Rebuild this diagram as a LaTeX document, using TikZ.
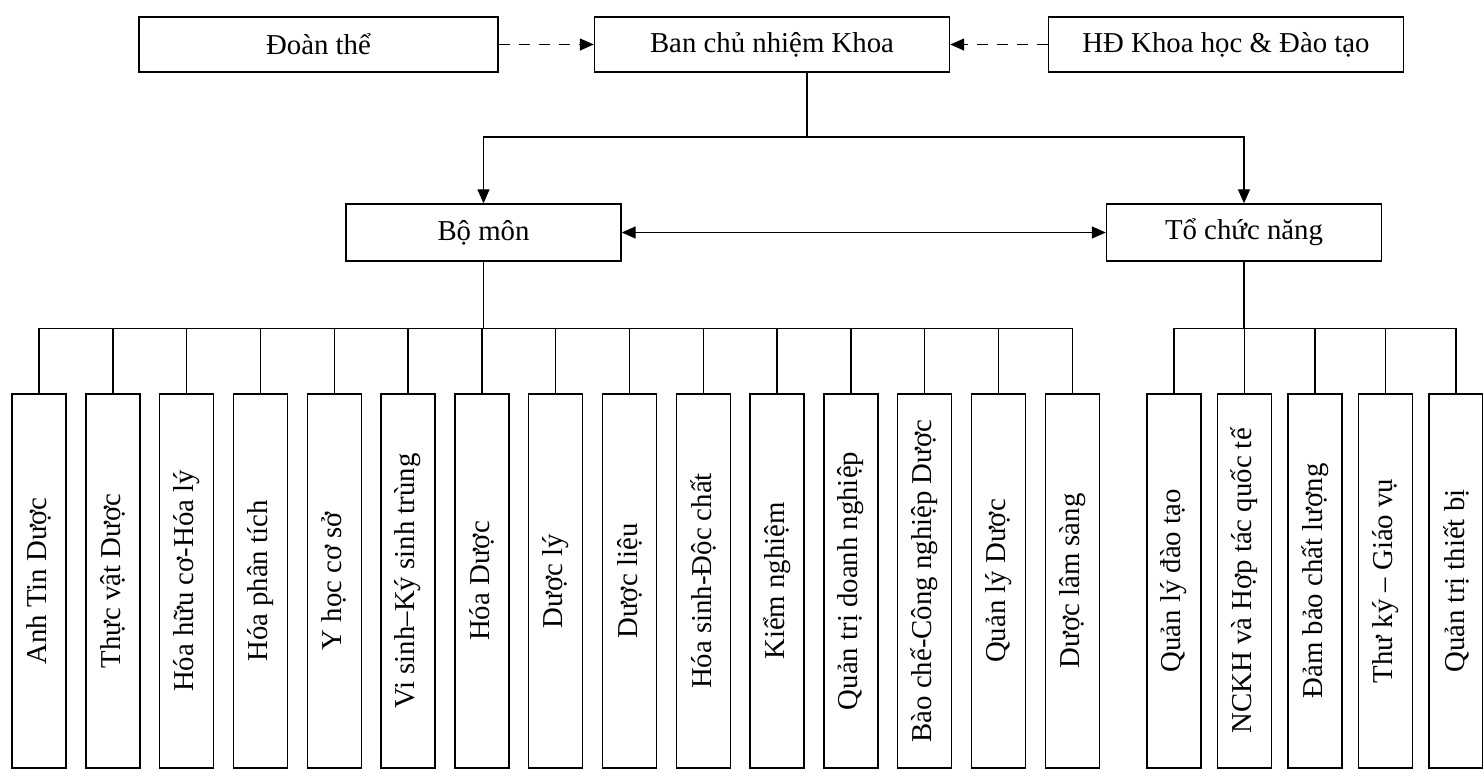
\documentclass[tikz,border=0pt]{standalone}
\usepackage{fontspec}
\setmainfont{Liberation Serif}
\usetikzlibrary{arrows.meta}

\begin{document}
\begin{tikzpicture}[x=0.5pt,y=-0.5pt,line width=0.7pt,
  box/.style={draw,inner sep=0pt,font=\fontsize{14.4}{17}\selectfont},
  topbox/.style={box,minimum width=177.5pt,minimum height=27.5pt},
  midbox/.style={box,minimum width=137.5pt,minimum height=28.5pt},
  unitbox/.style={box,rotate=90,minimum width=187pt,minimum height=27pt},
  tip/.style={-{Triangle[length=7pt,width=6pt]}},
  dashtip/.style={tip,dash pattern=on 5.5pt off 4.5pt}]
  \useasboundingbox (0,0) rectangle (1483,770);
  \node[topbox,minimum width=179.5pt] (doan) at (318.5,44.5) {Đoàn thể};
  \node[topbox] (bcn) at (772,44.5) {Ban chủ nhiệm Khoa};
  \node[topbox] (hd) at (1226,44.5) {HĐ Khoa học \& Đào tạo};
  \node[midbox] (bomon) at (483.5,232.5) {Bộ môn};
  \node[midbox] (tochuc) at (1244,232.5) {Tổ chức năng};
  \coordinate (split) at (807,137);
  % bo mon
  \node[unitbox] (b1) at (39,581) {Anh Tin Dược};
  \node[unitbox] (b2) at (112.8,581) {Thực vật Dược};
  \node[unitbox] (b3) at (186.6,581) {Hóa hữu cơ-Hóa lý};
  \node[unitbox] (b4) at (260.4,581) {Hóa phân tích};
  \node[unitbox] (b5) at (334.2,581) {Y học cơ sở};
  \node[unitbox] (b6) at (408,581) {Vi sinh–Ký sinh trùng};
  \node[unitbox] (b7) at (481.8,581) {Hóa Dược};
  \node[unitbox] (b8) at (555.6,581) {Dược lý};
  \node[unitbox] (b9) at (629.4,581) {Dược liệu};
  \node[unitbox] (b10) at (703.2,581) {Hóa sinh-Độc chất};
  \node[unitbox] (b11) at (777,581) {Kiểm nghiệm};
  \node[unitbox] (b12) at (850.8,581) {Quản trị doanh nghiệp};
  \node[unitbox] (b13) at (924.6,581) {Bào chế-Công nghiệp Dược};
  \node[unitbox] (b14) at (998.4,581) {Quản lý Dược};
  \node[unitbox] (b15) at (1072.2,581) {Dược lâm sàng};
  % to chuc nang
  \node[unitbox] (t1) at (1174,581) {Quản lý đào tạo};
  \node[unitbox] (t2) at (1244.5,581) {NCKH và Hợp tác quốc tế};
  \node[unitbox] (t3) at (1315,581) {Đảm bảo chất lượng};
  \node[unitbox] (t4) at (1385.5,581) {Thư ký – Giáo vụ};
  \node[unitbox] (t5) at (1456,581) {Quản trị thiết bị};
  \draw[dashtip] (doan) -- (bcn);
  \draw[dashtip] (hd) -- (bcn);
  \draw (bcn.south -| split) -- (split);
  \draw[tip] (split) -| (bomon);
  \draw[tip] (split) -| (tochuc);
  \draw[{Triangle[length=7pt,width=6pt]}-{Triangle[length=7pt,width=6pt]}] (bomon) -- (tochuc);
  \draw (bomon.south) -- ++(0,67) -| (b1.east);
  \draw (bomon.south) -- ++(0,67) -| (b2.east);
  \draw (bomon.south) -- ++(0,67) -| (b3.east);
  \draw (bomon.south) -- ++(0,67) -| (b4.east);
  \draw (bomon.south) -- ++(0,67) -| (b5.east);
  \draw (bomon.south) -- ++(0,67) -| (b6.east);
  \draw (bomon.south) -- ++(0,67) -| (b7.east);
  \draw (bomon.south) -- ++(0,67) -| (b8.east);
  \draw (bomon.south) -- ++(0,67) -| (b9.east);
  \draw (bomon.south) -- ++(0,67) -| (b10.east);
  \draw (bomon.south) -- ++(0,67) -| (b11.east);
  \draw (bomon.south) -- ++(0,67) -| (b12.east);
  \draw (bomon.south) -- ++(0,67) -| (b13.east);
  \draw (bomon.south) -- ++(0,67) -| (b14.east);
  \draw (bomon.south) -- ++(0,67) -| (b15.east);
  \draw (tochuc.south) -- ++(0,67) -| (t1.east);
  \draw (tochuc.south) -- ++(0,67) -| (t2.east);
  \draw (tochuc.south) -- ++(0,67) -| (t3.east);
  \draw (tochuc.south) -- ++(0,67) -| (t4.east);
  \draw (tochuc.south) -- ++(0,67) -| (t5.east);
\end{tikzpicture}
\end{document}
